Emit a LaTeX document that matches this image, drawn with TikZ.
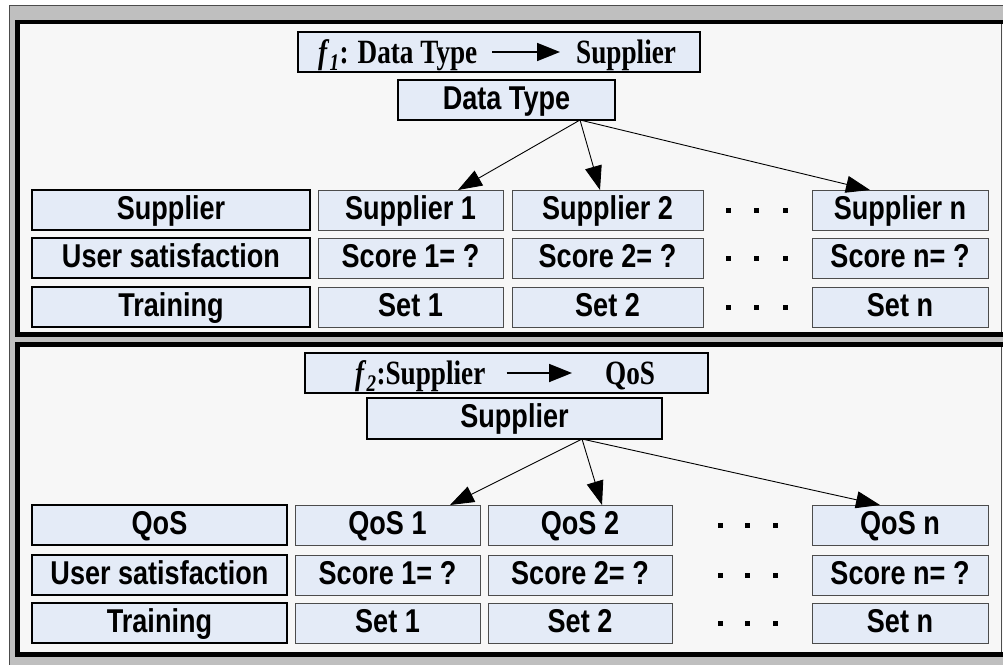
\documentclass[tikz,border=0pt]{standalone}
\usepackage{fontspec}
\setmainfont{Liberation Serif}[FakeStretch=0.8]
\newfontfamily\cellfont{Liberation Sans}[FakeStretch=0.82]
\usetikzlibrary{arrows.meta, positioning}

\definecolor{cellblue}{RGB}{228,235,247}
\definecolor{panelgray}{RGB}{247,247,247}
\definecolor{framegray}{RGB}{191,191,191}

\newcommand\dotrow[1]{\rule{5pt}{5pt}\hspace{#1}\rule{5pt}{5pt}\hspace{#1}\rule{5pt}{5pt}}

\begin{document}
\begin{tikzpicture}[
    x=1pt, y=-1pt,
    node distance=8pt and 8pt,
    cell/.style={draw=black!70, rectangle, fill=cellblue, line width=0.9pt, inner sep=0pt, outer sep=0pt, minimum height=40pt, text height=23pt, text depth=5pt, font={\cellfont\bfseries\fontsize{33}{36}\selectfont}},
    keycell/.style={cell, draw=black, line width=2.6pt},
    head/.style={cell, draw=black, line width=2pt},
    ttext/.style={inner sep=0pt, text height=22pt, text depth=0pt, font={\bfseries\fontsize{34}{36}\selectfont}},
    arrow/.style={-{Triangle[length=24pt, width=17pt]}, line width=0.9pt},
    titlearrow/.style={-{Triangle[length=23pt, width=18pt]}, line width=1.8pt},
    dots/.style={inner sep=0pt, anchor=west}
]
\useasboundingbox (0,0) rectangle (1003,664);

% Rahmen
\fill[framegray] (9,5) rectangle (1012,670);
\draw[black!70, line width=0.8pt] (9,670) -- (9,5) -- (1012,5);
\filldraw[fill=panelgray, draw=black, line width=4.5pt] (17.5,22) rectangle (1014,334.5);
\draw[black!70, line width=0.8pt] (1001.5,24) -- (1001.5,332);
\filldraw[fill=panelgray, draw=black, line width=4.5pt] (17.5,344.5) rectangle (1014,654.5);
\draw[black!70, line width=0.8pt] (1001.5,347) -- (1001.5,652);

% f1: Data Type -> Supplier
\node (t1box) [head, minimum width=402pt] at (499,52) {};
\node (t1a) [ttext, anchor=base west] at (318,63) {\textit{f}\textsubscript{\textit{1}}: Data Type};
\node (t1b) [ttext, anchor=base west] at (576,63) {Supplier};
\draw [titlearrow] ([xshift=15pt]t1a.east) -- ([xshift=-16pt]t1b.west);
\node (dtype) [head, minimum width=217pt] at (506.5,100) {Data Type};

% Tabelle 1
\node (p1sup0) [keycell, minimum width=278pt, anchor=north west] at (32,190) {Supplier};
\node (p1sup1) [cell, minimum width=185pt, right=8pt of p1sup0] {Supplier 1};
\node (p1sup2) [cell, minimum width=191pt, right=9pt of p1sup1] {Supplier 2};
\node (p1supn) [cell, minimum width=176pt, right=109pt of p1sup2] {Supplier n};
\node (p1usr0) [keycell, minimum width=278pt, below=8pt of p1sup0] {User satisfaction};
\node (p1usr1) [cell, minimum width=185pt, below=8pt of p1sup1] {Score 1= ?};
\node (p1usr2) [cell, minimum width=191pt, below=8pt of p1sup2] {Score 2= ?};
\node (p1usrn) [cell, minimum width=176pt, below=8pt of p1supn] {Score n= ?};
\node (p1trn0) [keycell, minimum width=278pt, below=9pt of p1usr0] {Training};
\node (p1trn1) [cell, minimum width=185pt, below=9pt of p1usr1] {Set 1};
\node (p1trn2) [cell, minimum width=191pt, below=9pt of p1usr2] {Set 2};
\node (p1trnn) [cell, minimum width=176pt, below=9pt of p1usrn] {Set n};
\node (p1dot1) [dots, right=22.5pt of p1sup2] {\dotrow{23.5pt}};
\node (p1dot2) [dots, right=22.5pt of p1usr2] {\dotrow{23.5pt}};
\node (p1dot3) [dots, right=22.5pt of p1trn2] {\dotrow{23.5pt}};

% Pfeile 1
\coordinate (p1src) at ([xshift=73.5pt]dtype.south);
\draw [arrow] (p1src) -- ([xshift=47.5pt]p1sup1.north);
\draw [arrow] (p1src) -- ([xshift=-7.5pt]p1sup2.north);
\draw [arrow] (p1src) -- ([xshift=-30pt]p1supn.north);

% f2: Supplier -> QoS
\node (t2box) [head, minimum width=403pt] at (506.5,373) {};
\node (t2a) [ttext, anchor=base west] at (355,384) {\textit{f}\textsubscript{\textit{2}}:Supplier};
\node (t2b) [ttext, anchor=base west] at (605,384) {QoS};
\draw [titlearrow] ([xshift=21pt]t2a.east) -- ([xshift=-33pt]t2b.west);
\node (p2head) [head, minimum width=295pt, minimum height=41pt] at (514.5,418.5) {Supplier};

% Tabelle 2
\node (p2qos0) [keycell, minimum width=255pt, anchor=north west] at (32,505) {QoS};
\node (p2qos1) [cell, minimum width=185pt, right=8pt of p2qos0] {QoS 1};
\node (p2qos2) [cell, minimum width=184pt, right=8pt of p2qos1] {QoS 2};
\node (p2qosn) [cell, minimum width=176pt, right=140pt of p2qos2] {QoS n};
\node (p2usr0) [keycell, minimum width=255pt, below=10pt of p2qos0] {User satisfaction};
\node (p2usr1) [cell, minimum width=185pt, below=10pt of p2qos1] {Score 1= ?};
\node (p2usr2) [cell, minimum width=184pt, below=10pt of p2qos2] {Score 2= ?};
\node (p2usrn) [cell, minimum width=176pt, below=10pt of p2qosn] {Score n= ?};
\node (p2trn0) [keycell, minimum width=255pt, below=8pt of p2usr0] {Training};
\node (p2trn1) [cell, minimum width=185pt, below=8pt of p2usr1] {Set 1};
\node (p2trn2) [cell, minimum width=184pt, below=8pt of p2usr2] {Set 2};
\node (p2trnn) [cell, minimum width=176pt, below=8pt of p2usrn] {Set n};
\node (p2dot1) [dots, right=45.5pt of p2qos2] {\dotrow{22.5pt}};
\node (p2dot2) [dots, right=45.5pt of p2usr2] {\dotrow{22.5pt}};
\node (p2dot3) [dots, right=45.5pt of p2trn2] {\dotrow{22.5pt}};

% Pfeile 2
\coordinate (p2src) at ([xshift=67.5pt]p2head.south);
\draw [arrow] (p2src) -- ([xshift=62.5pt]p2qos1.north);
\draw [arrow] (p2src) -- ([xshift=22pt]p2qos2.north);
\draw [arrow] (p2src) -- ([xshift=-20pt]p2qosn.north);

\end{tikzpicture}
\end{document}
